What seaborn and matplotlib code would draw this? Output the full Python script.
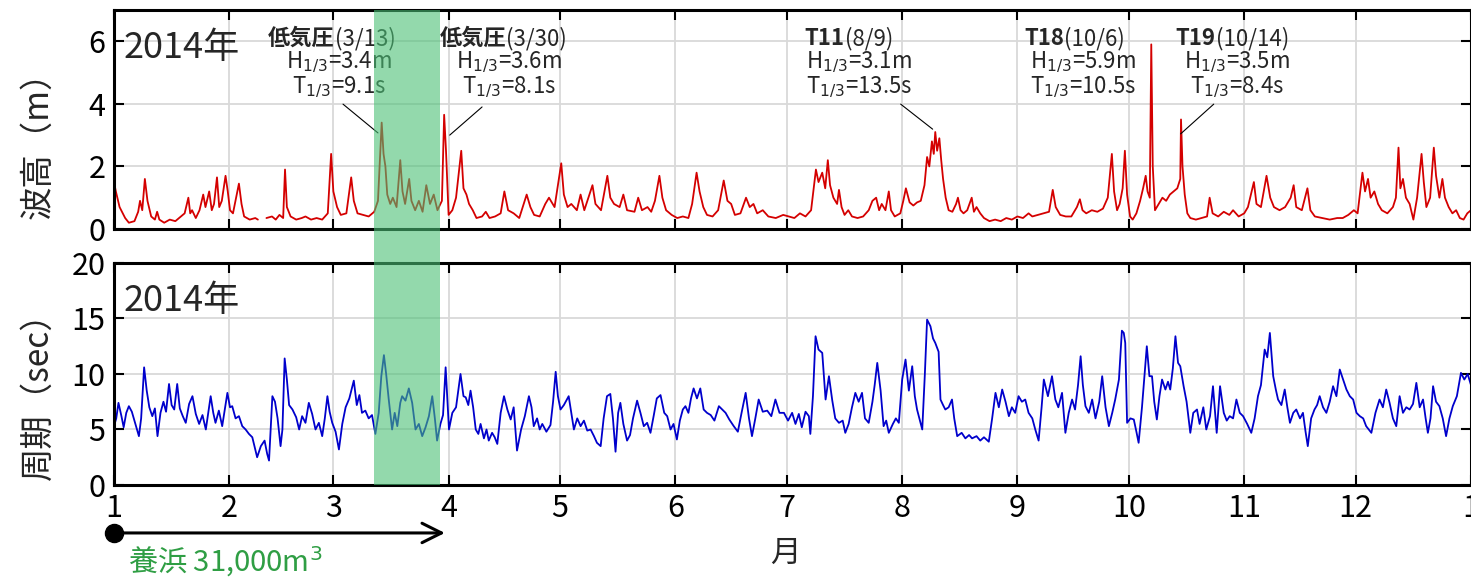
import numpy as np
import pandas as pd
import seaborn as sns
import matplotlib.pyplot as plt
from matplotlib.patches import Rectangle
from matplotlib.transforms import blended_transform_factory

# 2014年 波高 (m): 通日 (1/1 = 0) と値, 図から読み取り (nan = 欠測)
hs_day = [0, 0.5, 1.5, 3, 4, 5.5, 6.5, 7, 7.6, 8.3, 9, 10, 11, 11.6, 12.2, 13.5,
          15, 16.5, 18, 19, 20, 20.5, 21, 22, 23, 24, 24.6, 25.6, 26.3, 26.9, 27.7,
          28.3, 29, 30, 30.6, 31.2, 32, 33.6, 34.3, 35, 36.5, 38, 38.7, 39.8, 41,
          42.5, 43.5, 44.5, 45.5, 46, 46.5, 47.5, 49, 50.5, 51.5, 53, 54.5, 56, 57.5,
          58.4, 59, 60, 61, 62.5, 63.8, 64.5, 65.5, 67, 68.5, 70, 71, 72, 72.5, 73,
          73.5, 74.3, 75, 76, 77, 77.6, 78.3, 79.4, 80, 81, 82, 83, 84, 85, 86, 87,
          88.2, 88.8, 89.3, 90, 91, 92, 93.4, 94, 94.8, 95.5, 96.5, 97.5, 99, 100,
          101, 102.5, 104, 105, 106, 107.5, 109, 111, 112, 113, 114.5, 116, 117,
          118.5, 120.3, 121, 122, 123, 124.5, 125.5, 126.5, 128.7, 129.5, 131, 132.7,
          133.5, 134.5, 136, 137, 138, 140, 141, 142, 143.5, 144.5, 145.5, 146.7,
          147.5, 148.5, 150, 151.5, 153, 154.5, 155.5, 156.7, 157.5, 158.5, 159.5,
          161, 162.5, 164, 165, 166, 167, 168.5, 170, 171, 172, 173, 174.5, 176, 178,
          180, 181.5, 183, 184.5, 186, 187.5, 188.3, 188.8, 189.5, 190.5, 191.3, 192,
          192.6, 193.5, 194.5, 195, 195.7, 196.5, 197.5, 198.5, 200, 201.5, 203, 204,
          205, 205.8, 206.5, 207.5, 208.4, 209, 210, 211.5, 212.3, 213, 214, 215, 216,
          217, 218, 218.7, 219.3, 220, 220.5, 220.9, 221.4, 222, 222.5, 223, 223.7,
          224.5, 225.5, 226.5, 227, 227.7, 228.5, 229.5, 230.7, 231.3, 232, 233, 234,
          235.5, 237, 238.5, 240, 241.5, 243, 244.5, 246, 247, 248.5, 250, 251.5,
          252.5, 253.3, 254.5, 256, 257.5, 259, 259.8, 260.5, 261.5, 263, 264.5, 266,
          267.3, 268.4, 269, 269.8, 270.5, 271.3, 271.9, 272.5, 273.3, 274, 275, 276,
          276.8, 277.5, 278, 278.6, 279, 279.4, 280, 281, 282, 283, 284, 285, 286,
          286.8, 287, 287.4, 288, 288.7, 289.5, 291, 292.5, 294, 294.7, 295.5, 297,
          298.5, 300, 301, 302.5, 304, 305, 306.6, 307.3, 308.5, 310, 311, 312, 313.5,
          315, 316.5, 317.3, 318, 319.5, 321, 321.8, 323, 325, 327, 329, 330.5, 332,
          333.5, 334.5, 335.8, 336.5, 337.3, 338, 339, 340, 341, 342.5, 344, 344.8,
          345.5, 346, 346.7, 347.5, 348.5, 349.5, 350.5, 351.7, 352.3, 353, 354, 355,
          355.6, 356.5, 357.3, 358, 359, 360, 361, 362, 363, 364, 365]
hs_m = [1.5, 1.2, 0.7, 0.35, 0.2, 0.25, 0.55, 0.9, 0.6, 1.6, 0.9, 0.4, 0.3, 0.55, 0.3, 0.2,
        0.3, 0.25, 0.4, 0.5, 1.0, 0.5, 0.6, 0.35, 0.6, 1.1, 0.7, 1.2, 0.6, 0.8, 1.65,
        0.7, 0.9, 1.7, 1.2, 0.6, 0.5, 1.45, 0.8, 0.4, 0.3, 0.35, 0.3, np.nan, 0.35,
        0.4, 0.3, 0.45, 0.35, 1.9, 0.7, 0.4, 0.3, 0.35, 0.4, 0.3, 0.35, 0.3, 0.5,
        2.4, 1.2, 0.7, 0.45, 0.5, 1.65, 0.9, 0.5, 0.45, 0.4, 0.55, 0.9, 3.4, 2.4, 2.0,
        1.1, 0.8, 1.0, 0.7, 2.2, 1.2, 0.8, 1.6, 0.9, 0.6, 0.9, 0.55, 1.4, 0.8, 1.1, 0.6,
        0.9, 3.65, 2.5, 0.45, 0.6, 1.0, 2.5, 1.3, 1.1, 0.8, 0.6, 0.35, 0.4, 0.55,
        0.35, 0.4, 0.5, 1.2, 0.6, 0.5, 0.35, 1.1, 0.7, 0.45, 0.4, 0.8, 1.0,
        0.7, 2.1, 1.1, 0.7, 0.8, 0.6, 1.1, 0.6, 1.4, 0.8, 0.6, 1.7,
        1.0, 0.8, 0.7, 1.1, 0.6, 0.55, 1.0, 0.6, 0.7, 0.55, 0.9, 1.7,
        1.0, 0.6, 0.45, 0.35, 0.4, 0.35, 0.8, 1.8, 1.2, 0.7, 0.45,
        0.4, 0.6, 1.55, 0.9, 0.8, 0.45, 0.5, 1.0, 0.7, 0.8, 0.5, 0.6, 0.4, 0.35,
        0.45, 0.4, 0.35, 0.5, 0.4, 0.6, 1.4, 1.9, 1.5, 1.8, 1.3, 2.2,
        1.4, 1.0, 0.8, 1.25, 0.7, 0.45, 0.6, 0.4, 0.35, 0.4, 0.6, 0.9,
        1.0, 0.6, 0.8, 0.6, 1.2, 0.6, 0.4, 0.5, 0.9, 1.3, 0.85, 0.75, 0.85,
        0.9, 1.4, 2.3, 2.0, 2.8, 2.4, 3.1, 2.5, 2.9, 2.2, 1.6, 1.0,
        0.6, 0.55, 0.8, 1.0, 0.6, 0.5, 0.6, 1.0, 0.55, 0.7, 0.5, 0.35,
        0.25, 0.3, 0.25, 0.35, 0.3, 0.4, 0.35, 0.5, 0.4, 0.45, 0.5, 0.55,
        1.25, 0.7, 0.45, 0.4, 0.4, 0.7, 0.95, 0.6, 0.5, 0.6, 0.55, 0.65,
        1.0, 2.4, 1.2, 0.6, 0.8, 1.3, 2.5, 1.1, 0.4, 0.3, 0.5, 0.9,
        1.3, 1.7, 1.2, 1.0, 5.9, 2.0, 0.6, 0.8, 1.0, 0.9, 1.1, 1.2, 1.3,
        1.6, 3.5, 2.0, 1.1, 0.5, 0.35, 0.3, 0.35, 0.4, 1.0, 0.5, 0.4,
        0.55, 0.45, 0.6, 0.4, 0.5, 0.7, 1.5, 0.8, 0.7, 1.7, 1.0, 0.7, 0.6,
        0.7, 1.0, 1.4, 0.7, 0.6, 1.3, 0.6, 0.4, 0.35, 0.3, 0.35, 0.35, 0.45,
        0.6, 0.5, 1.8, 1.2, 1.6, 1.0, 1.2, 0.8, 0.6, 0.5, 0.7, 1.0,
        2.6, 1.3, 1.6, 1.0, 0.8, 0.3, 1.0, 2.4, 1.5, 0.7, 1.0, 2.6,
        1.7, 1.0, 1.6, 1.0, 0.7, 0.5, 0.6, 0.35, 0.3, 0.5, 0.6]

# 2014年 周期 (sec)
tp_day = [0, 0.6, 1.2, 2, 2.6, 3.3, 4.0, 4.8, 5.5, 6.7, 7.3, 8.1, 8.8, 9.5, 10.3, 11,
          11.7, 12.5, 13.3, 14, 14.8, 15.5, 16.2, 17.0, 17.7, 18.5, 19.3, 20.2, 21.1,
          22, 22.9, 23.8, 24.7, 26.0, 26.7, 27.3, 28.2, 29.1, 30.5, 31.2, 31.8, 32.7,
          33.6, 34.5, 35.4, 36.3, 37.2, 38.0, 38.5, 39.5, 40.5, 41.2, 41.7, 42.6, 43.3,
          44.0, 44.8, 45.3, 45.9, 46.5, 47.1, 48, 49, 49.8, 50.6, 51.5, 52.4, 53.3,
          54.2, 55.1, 56.0, 56.7, 57.4, 58, 58.7, 59.6, 60.5, 61.4, 62.3, 63.3, 64.5,
          65.3, 66.0, 66.7, 67.6, 68.5, 69.4, 70.3, 71.2, 71.9, 72.6, 73.2, 73.9, 74.8,
          75.5, 76.2, 77.0, 77.5, 78.4, 79.3, 80.2, 81.1, 82.0, 82.9, 83.8, 84.7, 85.6,
          86.3, 86.9, 87.8, 88.5, 89.2, 90.1, 91, 92, 93.2, 94, 94.6, 95.3, 95.9, 96.6,
          97.3, 98, 98.6, 99.5, 100.2, 100.8, 101.7, 102.4, 103.1, 104, 104.9, 105.8,
          106.7, 107.5, 108.4, 109.5, 110.5, 111.6, 112.3, 112.9, 113.8, 114.5, 115.2,
          116.3, 117.4, 118.1, 118.8, 119.4, 120.1, 121, 122.3, 123, 123.7, 124.6,
          125.5, 126.4, 127.3, 128.2, 129.1, 129.9, 130.9, 131.7, 132.6, 133.5, 134.2,
          134.9, 135.6, 136.2, 137, 138.0, 138.8, 139.6, 140.7, 141.6, 142.5, 143.4,
          144.3, 145.2, 146, 147.0, 148, 148.8, 149.7, 150.5, 151.4, 152.2, 153, 153.7,
          154.5, 155.2, 155.9, 156.8, 157.7, 158.6, 159.5, 160.5, 161.5, 162.7, 163.6,
          164.5, 165.5, 166.7, 167.8, 168.8, 169.9, 170.8, 171.6, 172.5, 173.4, 174.5,
          175.7, 176.8, 177.9, 179, 180.2, 181.3, 182.4, 183.3, 184.2, 185, 186, 186.9,
          187.3, 188, 188.7, 189.5, 190.5, 191.4, 192.3, 193.2, 194, 195.0, 196, 196.7,
          197.6, 198.5, 199.4, 200.3, 201.2, 202, 203.0, 204, 204.6, 205.3, 206.2,
          207.0, 207.7, 208.4, 209.5, 210.3, 211.1, 212, 212.9, 213.8, 214.7, 215.4,
          216.0, 217.4, 218.1, 218.7, 219.6, 220.3, 220.9, 221.8, 222.3, 223, 223.6,
          224.5, 225.4, 226, 226.8, 228, 229, 230, 230.8, 232, 233, 234, 235.3, 236.2,
          237.1, 238, 238.9, 239.8, 240.7, 241.5, 242.4, 243.3, 244.2, 245.1, 246, 247,
          247.8, 248.7, 249.5, 250.1, 251.2, 252.3, 253.2, 254, 255.0, 255.9, 256.8,
          257.7, 258.5, 259.3, 260.0, 260.6, 261.3, 262.2, 263.1, 264, 265, 265.8,
          266.7, 267.6, 268.5, 269.3, 270.3, 271.1, 271.6, 272.0, 272.5, 273.4, 274.3,
          275, 275.6, 276.5, 277.2, 277.8, 278.5, 279.2, 279.8, 280.5, 281.2, 281.9,
          282.8, 283.5, 284.1, 284.8, 285.5, 286.2, 286.8, 287.7, 288.5, 289.5, 290.3,
          291.3, 292, 293.0, 293.8, 294.8, 295.6, 296.6, 297.5, 298.5, 299.3, 300.1,
          301, 301.9, 302.8, 303.7, 304.8, 305.9, 306.8, 307.7, 308.5, 309.5, 310.2,
          310.9, 311.8, 312.5, 313.1, 314, 314.9, 315.6, 316.3, 317.2, 318.0, 319,
          319.8, 320.5, 321.1, 322, 322.9, 323.6, 324.3, 325.2, 326.1, 327, 327.9,
          328.8, 329.7, 330.6, 331.5, 332.4, 333.3, 334.2, 335.1, 336, 336.8, 337.5,
          338.2, 339.3, 340.4, 341.3, 342.2, 343.1, 344, 344.9, 345.8, 346.7, 347.6,
          348.5, 349.4, 350.3, 351.2, 352.1, 352.8, 353.4, 354.1, 354.8, 355.6, 356.5,
          357.4, 358.3, 359.2, 360.1, 361.2, 362.3, 363.2, 364.1, 365]
tp_s = [5.3, 6.0, 7.4, 6.2, 5.2, 6.5, 7.1, 6.6, 5.8, 4.4, 6.0, 10.6, 8.5, 7.0, 6.2, 6.9,
        4.4, 6.5, 7.5, 6.6, 9.1, 7.2, 6.8, 9.1, 6.9, 6.2, 5.6, 7.3, 8.0,
        6.4, 5.5, 6.3, 5.0, 8.0, 6.5, 5.6, 6.7, 5.3, 8.3, 7.0, 7.1, 6.0,
        6.2, 5.3, 5.0, 4.6, 4.3, 3.2, 2.5, 3.5, 4.0, 2.8, 2.2, 8.0, 7.5,
        6.0, 3.5, 5.0, 11.4, 9.5, 7.2, 6.8, 6.1, 5.0, 6.2, 5.6, 7.4, 6.4,
        5.0, 5.6, 4.4, 6.0, 8.0, 6.6, 5.6, 4.8, 3.2, 5.5, 7.0, 7.8, 9.4,
        7.2, 8.1, 6.5, 6.7, 6.0, 6.3, 4.6, 6.5, 9.8, 11.7, 10.0, 7.7, 5.0,
        6.5, 5.3, 7.4, 8.0, 7.6, 8.7, 7.4, 5.0, 5.5, 4.4, 5.2, 6.2, 8.0,
        6.0, 4.0, 5.5, 6.3, 10.6, 5.0, 6.5, 7.0, 10.0, 8.0, 7.9, 7.2, 8.5, 7.0,
        5.0, 4.6, 5.5, 4.2, 5.0, 4.0, 4.7, 4.3, 3.7, 6.5, 8.0, 6.8,
        5.9, 7.0, 3.1, 5.0, 6.2, 8.0, 7.0, 5.3, 6.0, 5.0, 5.5,
        4.8, 5.4, 7.5, 10.2, 8.0, 6.8, 7.2, 8.0, 6.5, 5.0, 6.0,
        5.3, 5.8, 4.9, 5.0, 4.4, 3.8, 3.5, 6.0, 8.0, 8.2, 6.0,
        3.0, 6.5, 7.4, 5.5, 4.0, 4.5, 6.0, 7.6, 6.5, 5.3, 5.6,
        4.7, 6.3, 7.8, 8.1, 6.5, 6.2, 5.0, 5.5, 4.1, 5.8, 6.8, 7.1,
        6.5, 7.8, 8.7, 7.8, 8.7, 6.8, 6.5, 6.3, 5.8, 7.1, 6.8,
        6.5, 5.9, 5.3, 4.8, 6.5, 8.3, 6.0, 4.4, 6.0, 7.7, 6.6,
        6.7, 6.2, 7.7, 6.5, 6.5, 5.8, 6.5, 5.5, 6.4, 5.2, 6.6, 6.2,
        4.6, 8.0, 13.4, 12.2, 11.9, 7.7, 9.8, 7.6, 6.0, 5.6, 5.8, 4.7,
        5.5, 7.0, 8.3, 7.5, 8.3, 6.0, 5.6, 7.5, 9.0, 11.0, 8.5,
        5.3, 5.8, 4.7, 5.5, 6.0, 5.6, 9.5, 11.3, 8.5, 10.7, 8.0,
        6.8, 5.0, 10.0, 14.9, 14.3, 13.2, 12.8, 12.0, 7.7, 7.2, 6.8,
        7.0, 7.7, 6.0, 4.4, 4.7, 4.2, 4.5, 4.2, 4.4, 4.0, 4.3, 3.9, 6.0,
        8.3, 7.0, 8.6, 7.5, 6.2, 7.0, 6.5, 8.0, 7.5, 7.7, 6.5, 6.0,
        5.0, 4.0, 7.0, 9.5, 8.0, 9.8, 7.7, 7.0, 8.3, 4.7, 6.5,
        7.7, 6.8, 9.0, 11.6, 9.0, 7.1, 6.5, 7.7, 6.0, 7.5, 9.8,
        7.0, 5.3, 6.5, 7.7, 9.5, 13.9, 13.7, 12.8, 5.6, 6.0, 5.9,
        4.8, 3.8, 7.0, 10.0, 12.5, 9.8, 9.8, 7.5, 5.9, 8.0, 9.5,
        8.6, 9.3, 8.6, 10.5, 13.4, 11.0, 10.7, 8.9, 7.5, 4.7, 6.5,
        6.8, 5.5, 7.0, 5.0, 6.2, 8.9, 4.7, 8.9, 6.5, 5.8, 6.2,
        6.0, 7.7, 6.5, 6.2, 5.5, 4.7, 6.0, 8.0, 9.0, 12.2, 11.5,
        13.7, 9.8, 8.6, 7.7, 7.2, 8.6, 7.0, 5.6, 6.5, 6.8, 6.0,
        6.5, 4.8, 3.5, 6.0, 6.8, 7.2, 8.0, 7.0, 6.5, 7.5, 8.9,
        8.0, 10.4, 9.5, 8.6, 8.0, 7.7, 6.5, 6.2, 6.0, 5.3, 5.0,
        4.7, 6.5, 7.7, 7.0, 8.6, 7.4, 6.0, 5.3, 8.0, 6.5, 7.0,
        6.8, 7.3, 9.2, 7.0, 7.7, 6.0, 4.7, 6.0, 8.9, 7.5, 7.1,
        6.0, 4.4, 6.0, 7.1, 8.0, 10.1, 9.5, 10.0, 9.0]

month_start = [0, 31, 59, 90, 120, 151, 181, 212, 243, 273, 304, 334, 365]
month_label = ['1', '2', '3', '4', '5', '6', '7', '8', '9', '10', '11', '12', '1']

# 主な高波
ev_name = ['低気圧', '低気圧', 'T11', 'T18', 'T19']
ev_date = ['(3/13)', '(3/30)', '(8/9)', '(10/6)', '(10/14)']
ev_h = [3.4, 3.6, 3.1, 5.9, 3.5]
ev_t = [9.1, 8.1, 13.5, 10.5, 8.4]

# 養浜
nourish_from = 70.0
nourish_to = 87.6
works_from = 0
works_to = 89
works_text = '養浜 31,000m$^3$'

sns.set_theme(style='whitegrid')
plt.rcParams['font.family'] = ['Noto Sans CJK JP', 'DejaVu Sans']
plt.rcParams['mathtext.fontset'] = 'dejavusans'

fig = plt.figure(figsize=(14.71, 5.8), dpi=100)
ax1 = fig.add_axes([0.0775, 0.6052, 0.9225, 0.3776])
ax2 = fig.add_axes([0.0775, 0.1638, 0.9225, 0.3828], sharex=ax1)


def to_frame(days, vals):
    df = pd.DataFrame({'day': days, 'val': vals})
    df['seg'] = df['val'].isna().cumsum()
    return df.dropna()


hs = to_frame(hs_day, hs_m)
tp = to_frame(tp_day, tp_s)
sns.lineplot(data=hs, x='day', y='val', units='seg', estimator=None, sort=False,
             color='#d40000', linewidth=1.3, ax=ax1)
sns.lineplot(data=tp, x='day', y='val', units='seg', estimator=None, sort=False,
             color='#0000cc', linewidth=1.3, ax=ax2)

for ax in (ax1, ax2):
    ax.set_xlim(0, 365)
    ax.set_xticks(month_start)
    ax.grid(True, color='#d9d9d9', linewidth=1.3)
    ax.tick_params(direction='in', length=7, width=1.5, bottom=True, left=True,
                   top=True, right=True, labelsize=22, colors='black', pad=6)
    for s in ax.spines.values():
        s.set_color('black')
        s.set_linewidth(2.2)
    ax.set_xlabel('')
    ax.set_ylabel('')

ax1.set_ylim(0, 7)
ax1.set_yticks([0, 2, 4, 6])
ax1.tick_params(labelbottom=False)
ax2.set_ylim(0, 20)
ax2.set_yticks([0, 5, 10, 15, 20])
ax2.set_xticklabels(month_label)

ax1.text(2.5, 5.8, '2014年', fontsize=26, va='center')
ax2.text(2.5, 16.6, '2014年', fontsize=26, va='center')

# 注記
centers = [60.5, 106.2, 200.3, 260.6, 302.0]
splits = [59.4, 105.5, 196.5, 255.6, 296.3]
leaders = [((61.6, 3.99), (71.0, 3.07)), ((99.0, 3.9), (90.3, 3.0)),
           ((211.6, 3.99), (220.2, 3.19)), None, ((295.8, 3.99), (286.9, 3.04))]
for i in range(len(ev_name)):
    ax1.text(splits[i], 6.1, ev_name[i], ha='right', va='center', fontsize=16,
             fontweight='bold')
    ax1.text(splits[i], 6.1, ev_date[i], ha='left', va='center', fontsize=16)
    ax1.text(centers[i], 5.32, f'H$_{{1/3}}$={ev_h[i]}m', ha='center', va='center',
             fontsize=16)
    ax1.text(centers[i], 4.52, f'T$_{{1/3}}$={ev_t[i]}s', ha='center', va='center',
             fontsize=16)
    if leaders[i] is not None:
        ax1.annotate('', xy=leaders[i][1], xytext=leaders[i][0],
                     arrowprops=dict(arrowstyle='-', color='black', lw=0.8,
                                     shrinkA=0, shrinkB=0))

# 養浜期間の帯
p1 = ax1.get_position()
p2 = ax2.get_position()
band_tr = blended_transform_factory(ax2.transData, fig.transFigure)
fig.add_artist(Rectangle((nourish_from, p2.y0), nourish_to - nourish_from,
                         p1.y1 - p2.y0, transform=band_tr, facecolor='#4bc076',
                         edgecolor='none', alpha=0.6))

# 養浜の矢印
tr = blended_transform_factory(ax2.transData, ax2.transAxes)
ax2.plot([works_from], [-0.216], 'o', color='black', ms=13, transform=tr, clip_on=False)
ax2.annotate('', xy=(works_to, -0.216), xytext=(works_from, -0.216), xycoords=tr,
             textcoords=tr, arrowprops=dict(arrowstyle='->', color='black', lw=2.2,
                                            mutation_scale=35, shrinkA=0, shrinkB=0))
ax2.text(3.8, -0.345, works_text, transform=tr, color='#2f9e44', fontsize=21, va='center')

fig.text(0.5337, 0.0466, '月', fontsize=22, ha='center', va='center')
fig.text(0.026, 0.764, '波高（m）', rotation=90, fontsize=24, ha='center', va='center')
fig.text(0.026, 0.331, '周期（sec）', rotation=90, fontsize=24, ha='center', va='center')

fig.savefig('out.png', dpi=100)
